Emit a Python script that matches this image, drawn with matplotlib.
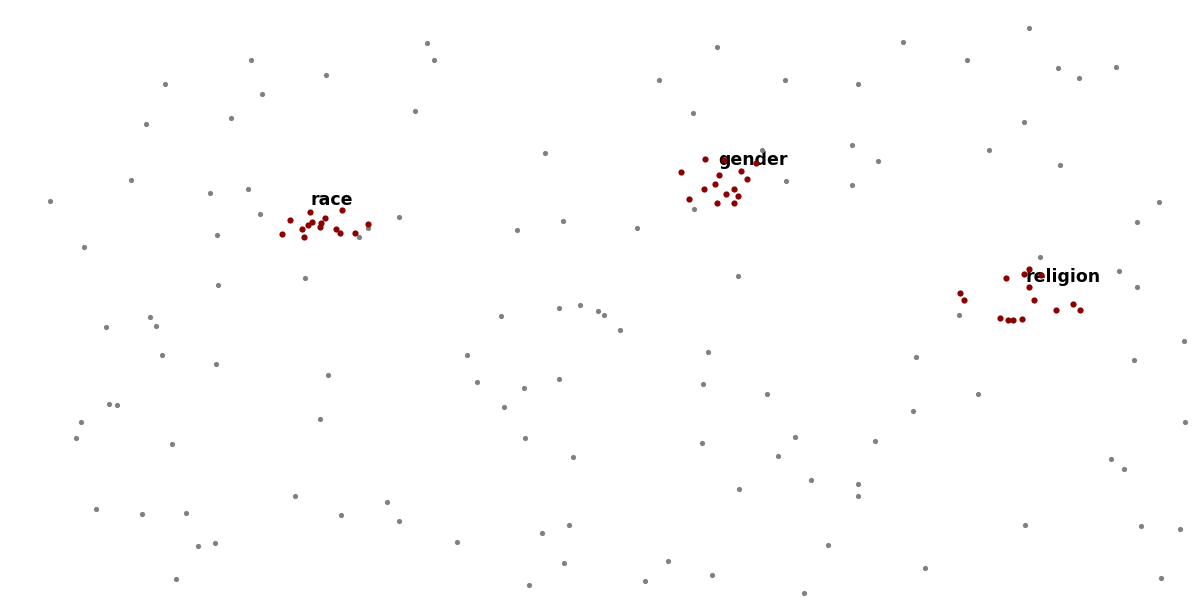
import matplotlib
matplotlib.use('Agg')
import matplotlib.pyplot as plt

# background words (grey)
other_x = [165, 251, 326, 427, 434, 262, 231, 415, 146, 545, 131, 210, 248, 50, 260, 399,
           517, 563, 217, 84, 359, 368, 305, 218, 106, 150, 156, 162, 216, 328, 109, 117,
           81, 76, 172, 320, 501, 559, 580, 598, 604, 620, 467, 477, 524, 559, 504, 525,
           573, 96, 142, 186, 198, 215, 176, 295, 341, 387, 399, 457, 542, 569, 564, 529,
           637, 659, 717, 693, 762, 785, 786, 858, 852, 878, 852, 903, 967, 989, 1029, 1058,
           1079, 1116, 1024, 1060, 1159, 1137, 1040, 1119, 1137, 959, 1184, 1134, 738, 694,
           708, 703, 767, 916, 978, 913, 702, 795, 875, 778, 1111, 1124, 1185, 739, 811,
           858, 858, 1025, 1141, 1180, 828, 668, 645, 712, 925, 804, 1161]
other_y = [84, 60, 75, 43, 60, 94, 118, 111, 124, 153, 180, 193, 189, 201, 214, 217,
           230, 221, 235, 247, 237, 228, 278, 285, 327, 317, 326, 355, 364, 375, 404, 405,
           422, 438, 444, 419, 316, 308, 305, 311, 315, 330, 355, 382, 388, 379, 407, 438,
           457, 509, 514, 513, 546, 543, 579, 496, 515, 502, 521, 542, 533, 525, 563, 585,
           228, 80, 47, 113, 150, 80, 181, 84, 145, 161, 185, 42, 60, 150, 28, 68,
           78, 67, 122, 165, 202, 222, 257, 271, 287, 315, 341, 360, 276, 209,
           352, 384, 394, 357, 394, 411, 443, 437, 441, 456, 459, 469, 422, 489, 480,
           484, 496, 525, 526, 529, 545, 561, 581, 575, 568, 593, 578]

# highlighted groups
race_x = [310, 342, 290, 325, 312, 308, 321, 320, 302, 336, 282, 304, 340, 355, 368]
race_y = [212, 210, 220, 218, 222, 225, 223, 227, 229, 229, 234, 237, 233, 233, 224]

gender_x = [705, 724, 756, 681, 741, 719, 747, 715, 704, 734, 726, 738, 689, 717, 734]
gender_y = [159, 160, 163, 172, 171, 175, 179, 184, 189, 189, 194, 196, 199, 203, 203]

religion_x = [1029, 1024, 1041, 1006, 1029, 960, 964, 1034, 1056, 1073, 1080, 1000, 1008, 1013, 1022]
religion_y = [269, 274, 275, 278, 287, 293, 300, 300, 310, 304, 310, 318, 320, 320, 319]

labels = ['race', 'gender', 'religion']
label_x = [332, 753, 1063]
label_y = [200, 160, 277]

fig = plt.figure(figsize=(12, 6.12), dpi=100)
ax = fig.add_axes([0, 0, 1, 1])

# подписи групп под точками, как в оригинале
for lab, lx, ly in zip(labels, label_x, label_y):
    ax.text(lx, ly, lab, fontsize=12.5, fontweight='bold', color='black',
            ha='center', va='center', zorder=1)

ax.scatter(other_x, other_y, s=14, color='#808080', linewidths=0, zorder=2)
for gx, gy in [(race_x, race_y), (gender_x, gender_y), (religion_x, religion_y)]:
    ax.scatter(gx, gy, s=20, color='#8b0000', linewidths=0, zorder=3)

ax.set_xlim(0, 1200)
ax.set_ylim(612, 0)
ax.axis('off')

fig.savefig('out.png', dpi=100, facecolor='white')
